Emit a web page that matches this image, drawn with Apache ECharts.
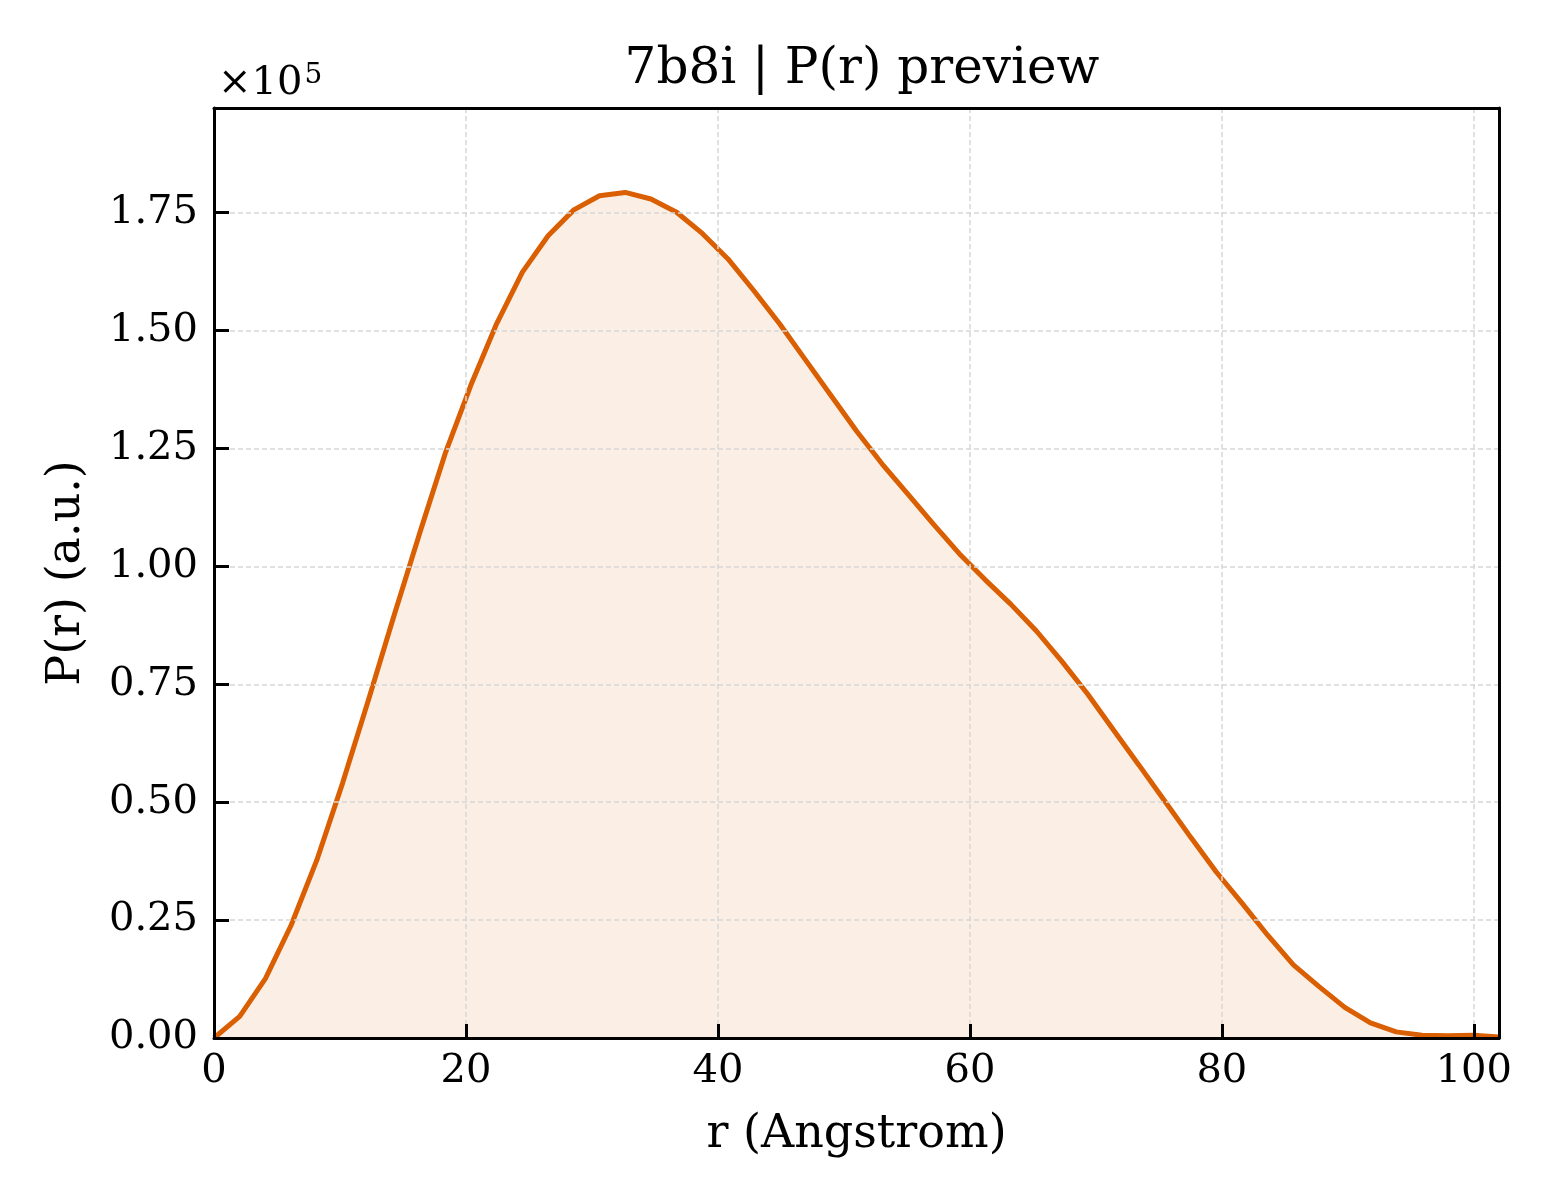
<!DOCTYPE html>
<html>
<head>
<meta charset="utf-8">
<script src="https://cdn.jsdelivr.net/npm/echarts@6/dist/echarts.min.js"></script>
<style>
html,body{margin:0;padding:0;background:#fff;}
#chart{width:1560px;height:1200px;}
</style>
</head>
<body>
<div id="chart"></div>
<script>
var titleText = '7b8i | P(r) preview';
var xName = 'r (Angstrom)';
var yName = 'P(r) (a.u.)';
var rValues = [0, 2.04, 4.08, 6.12, 8.16, 10.2, 12.24, 14.28, 16.32, 18.36,
  20.4, 22.44, 24.48, 26.52, 28.56, 30.6, 32.64, 34.68, 36.72, 38.76,
  40.8, 42.84, 44.88, 46.92, 48.96, 51.0, 53.04, 55.08, 57.12, 59.16,
  61.2, 63.24, 65.28, 67.32, 69.36, 71.4, 73.44, 75.48, 77.52, 79.56,
  81.6, 83.64, 85.68, 87.72, 89.76, 91.8, 93.84, 95.88, 97.92, 99.96, 102.0];
var prValues = [0, 4600, 12600, 23900, 37700, 54000, 71500, 89500, 107000, 124000,
  138500, 151500, 162400, 170100, 175600, 178600, 179300, 177900, 175100, 170600,
  165200, 158500, 151500, 143900, 136300, 128700, 121700, 115300, 108900, 102700,
  97200, 92000, 86300, 79800, 72900, 65300, 57800, 50200, 42600, 35200,
  28600, 21800, 15500, 10900, 6500, 3200, 1300, 600, 500, 600, 200];
var xTicks = [0, 20, 40, 60, 80, 100];
var yMax = 197200;
var xMax = 102;

var data = rValues.map(function (r, i) { return [r, prValues[i]]; });
var font = 'DejaVu Serif';
var frameLine = { show: true, onZero: false, lineStyle: { color: '#000', width: 3 } };
var chart = echarts.init(document.getElementById('chart'));
chart.setOption({
  animation: false,
  backgroundColor: '#ffffff',
  title: {
    text: titleText,
    left: 857,
    textAlign: 'center',
    top: 40,
    textStyle: { fontFamily: font, fontSize: 50, fontWeight: 'normal', color: '#000' }
  },
  grid: { left: 214, right: 61, top: 108, bottom: 162 },
  xAxis: [{
    type: 'value', min: 0, max: xMax, interval: 20, position: 'bottom',
    name: xName, nameLocation: 'middle', nameGap: 74,
    nameTextStyle: { fontFamily: font, fontSize: 46, color: '#000' },
    axisLine: frameLine,
    axisTick: { show: true, inside: true, length: 14, lineStyle: { color: '#000', width: 3 } },
    axisLabel: { fontFamily: font, fontSize: 40, color: '#000', margin: 14, showMaxLabel: false,
      formatter: function (v) { return xTicks.indexOf(v) >= 0 ? String(v) : ''; } },
    splitLine: { show: true, lineStyle: { color: '#d6d6d6', width: 1.5, type: [5, 3] } },
    z: 10
  }, {
    type: 'value', min: 0, max: xMax, position: 'top',
    axisLine: frameLine, axisTick: { show: false }, axisLabel: { show: false },
    splitLine: { show: false }, z: 10
  }],
  yAxis: [{
    type: 'value', min: 0, max: yMax, interval: 25000, position: 'left',
    name: yName, nameLocation: 'middle', nameGap: 124, nameRotate: 90,
    nameTextStyle: { fontFamily: font, fontSize: 46, color: '#000' },
    axisLine: frameLine,
    axisTick: { show: true, inside: true, length: 15, lineStyle: { color: '#000', width: 3 } },
    axisLabel: { fontFamily: font, fontSize: 40, color: '#000', margin: 16, showMaxLabel: false,
      formatter: function (v) { return (v / 1e5).toFixed(2); } },
    splitLine: { show: true, lineStyle: { color: '#d6d6d6', width: 1.5, type: [5, 3] } },
    z: 10
  }, {
    type: 'value', min: 0, max: yMax, position: 'right',
    axisLine: frameLine, axisTick: { show: false }, axisLabel: { show: false },
    splitLine: { show: false }, z: 10
  }],
  graphic: [{
    type: 'text', left: 218, top: 62,
    style: {
      text: '{a|×10}{b|5}',
      rich: {
        a: { fontFamily: font, fontSize: 40, fill: '#000', verticalAlign: 'bottom' },
        b: { fontFamily: font, fontSize: 28, fill: '#000', verticalAlign: 'top', padding: [0, 0, 14, 2] }
      }
    }
  }],
  series: [{
    type: 'line', data: data, showSymbol: false, smooth: false,
    xAxisIndex: 0, yAxisIndex: 0,
    lineStyle: { color: '#d95f02', width: 5 },
    itemStyle: { color: '#d95f02' },
    areaStyle: { color: 'rgba(217,95,2,0.15)' },
    z: 3
  }]
});
</script>
</body>
</html>
